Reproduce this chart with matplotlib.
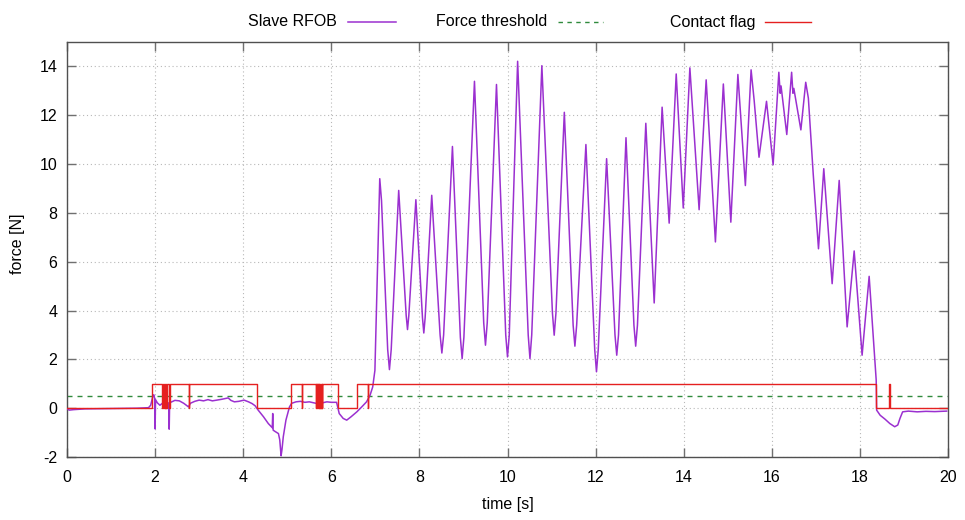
import matplotlib
matplotlib.use("Agg")
import matplotlib.pyplot as plt
from matplotlib.lines import Line2D

plt.rcParams['font.family'] = ['Liberation Sans', 'DejaVu Sans']
plt.rcParams['axes.unicode_minus'] = False

# ---- data ----
slave_t = [0.00, 0.05, 0.15, 0.40, 0.80, 1.20, 1.60, 1.85, 1.90, 1.95, 1.97, 1.99,
           2.00, 2.01, 2.05, 2.11, 2.18, 2.24, 2.31, 2.32, 2.33, 2.38, 2.45, 2.55,
           2.65, 2.76, 2.80, 2.90, 3.00, 3.10, 3.20, 3.30, 3.40, 3.50, 3.60, 3.66,
           3.72, 3.80, 3.90, 4.02, 4.12, 4.20, 4.27, 4.34, 4.46, 4.57, 4.66, 4.67,
           4.68, 4.72, 4.80, 4.83, 4.86, 4.88, 4.91, 4.97, 5.05, 5.10, 5.20, 5.30,
           5.40, 5.50, 5.60, 5.70, 5.80, 5.90, 6.00, 6.12, 6.18, 6.27, 6.35, 6.45,
           6.58, 6.69, 6.80, 6.88, 6.94, 6.99,
           7.10, 7.14, 7.28, 7.32, 7.36, 7.53, 7.70, 7.73, 7.76, 7.92, 8.07, 8.10,
           8.13, 8.28, 8.47, 8.51, 8.55, 8.75, 8.93, 8.97, 9.01, 9.25, 9.46, 9.50,
           9.54, 9.75, 9.96, 10.00, 10.04, 10.23, 10.47, 10.51, 10.55, 10.78,
           11.02, 11.06, 11.10, 11.29, 11.49, 11.53, 11.57, 11.78, 11.98, 12.02,
           12.06, 12.25, 12.44, 12.48, 12.52, 12.69, 12.87, 12.91, 12.95, 13.14,
           13.33, 13.51, 13.67, 13.83,
           13.99, 14.14, 14.35, 14.51, 14.72, 14.90, 15.07, 15.23, 15.40, 15.53,
           15.60, 15.71, 15.88, 16.03, 16.16, 16.19, 16.21, 16.34, 16.45, 16.48,
           16.50, 16.66, 16.77, 16.83, 16.94, 17.06, 17.18, 17.37, 17.53, 17.71,
           17.87, 18.05, 18.21, 18.37,
           18.38, 18.46, 18.57, 18.68, 18.79, 18.86, 18.91, 18.97, 19.10, 19.30,
           19.50, 19.70, 19.97]
slave_f = [-0.02, -0.08, -0.06, -0.03, -0.02, -0.01, 0.00, 0.02, 0.12, 0.50, 0.55, 0.40,
           -0.85, 0.35, 0.22, 0.12, 0.22, 0.28, 0.20, -0.86, 0.22, 0.26, 0.32, 0.30,
           0.20, 0.05, 0.20, 0.28, 0.33, 0.30, 0.35, 0.30, 0.33, 0.36, 0.40, 0.42,
           0.32, 0.26, 0.28, 0.33, 0.26, 0.19, 0.10, -0.08, -0.35, -0.63, -0.80, -0.22,
           -0.90, -0.95, -1.04, -1.30, -1.95, -1.70, -1.17, -0.49, 0.05, 0.20, 0.26, 0.28,
           0.24, 0.26, 0.22, 0.18, 0.22, 0.26, 0.24, 0.24, -0.22, -0.42, -0.49, -0.35,
           -0.15, 0.05, 0.26, 0.53, 0.87, 1.55,
           9.40, 8.50, 2.4, 1.58, 2.4, 8.92, 3.8, 3.22, 3.8, 8.54, 3.7, 3.08,
           3.7, 8.72, 3.0, 2.26, 3.0, 10.72, 2.9, 2.03, 2.9, 13.39, 3.5, 2.58,
           3.5, 13.26, 3.0, 2.10, 3.0, 14.21, 3.0, 2.03, 3.0, 14.03,
           3.9, 2.99, 3.9, 12.12, 3.4, 2.54, 3.4, 10.80, 2.4, 1.49,
           2.4, 10.22, 3.0, 2.17, 3.0, 11.08, 3.4, 2.54, 3.4, 11.67,
           4.31, 12.33, 7.58, 13.69,
           8.20, 13.94, 8.13, 13.45, 6.81, 13.28, 7.62, 13.67, 9.12, 13.86,
           12.60, 10.28, 12.57, 9.97, 13.76, 12.90, 13.20, 11.21, 13.76, 12.90,
           13.10, 11.40, 13.35, 12.70, 9.60, 6.53, 9.81, 5.10, 9.33, 3.33,
           6.44, 2.17, 5.40, 1.15,
           -0.08, -0.29, -0.45, -0.63, -0.76, -0.69, -0.42, -0.15, -0.12, -0.15,
           -0.13, -0.14, -0.12]

threshold = 0.5

contact_t = [0.00, 1.94, 2.16, 2.17, 2.21, 2.22, 2.23, 2.24, 2.25, 2.26, 2.32, 2.33,
             2.76, 2.77, 4.31, 5.09, 5.33, 5.34, 5.65, 5.66, 5.67, 5.68, 5.69, 5.70,
             5.71, 5.72, 5.73, 5.74, 5.75, 5.76, 5.77, 5.78, 5.79, 5.80, 6.16, 6.59,
             6.83, 6.84, 18.37, 18.67, 18.68, 19.97]
contact_v = [0, 1, 0, 1, 0, 1, 0, 1, 0, 1, 0, 1,
             0, 1, 0, 1, 0, 1, 0, 1, 0, 1, 0, 1,
             0, 1, 0, 1, 0, 1, 0, 1, 0, 1, 0, 1,
             0, 1, 0, 1, 0, 0]

labels = ["Slave RFOB", "Force threshold", "Contact flag"]
purple = "#9b30d0"
green = "#2f8a3c"
red = "#e52020"

fig = plt.figure(figsize=(9.65, 5.2), dpi=100)
ax = fig.add_axes([67/965, 1-457/520, (948-67)/965, (457-42)/520])

ax.plot(slave_t, slave_f, color=purple, lw=1.1, zorder=3)
ax.axhline(threshold, color=green, lw=1.0, dashes=(3.6, 3.6), zorder=2)
ax.plot(contact_t, contact_v, color=red, lw=1.0, drawstyle="steps-post", zorder=4)

ax.set_xlim(0, 20)
ax.set_ylim(-2, 15)
ax.set_xticks(range(0, 21, 2))
ax.set_yticks(range(-2, 15, 2))
ax.grid(True, color="#b8b8b8", lw=0.8, linestyle=(0, (1, 2.5)))
ax.set_axisbelow(True)
ax.tick_params(direction="in", length=6.5, width=1, color="#707070",
               top=True, right=True, labelsize=11.5, pad=7)
ax.tick_params(axis="x", pad=9)
for s in ax.spines.values():
    s.set_color("#505050")
    s.set_linewidth(1.0)

ax.set_xlabel("time [s]", fontsize=11.5)
ax.set_ylabel("force [N]", fontsize=11.5)
ax.xaxis.set_label_coords(0.5, -0.097)
ax.yaxis.set_label_coords(-0.048, 0.515)

# gnuplot-style key: text right-aligned, sample after it
key_y = 1 - 22/520
text_right = [337, 547, 755]
samp_start = [348, 558, 765]
samp_end = [396, 603, 811]
styles = [dict(color=purple, lw=1.1),
          dict(color=green, lw=1.0, dashes=(3.2, 3.2)),
          dict(color=red, lw=1.0)]
for lab, tr, s0, s1, st in zip(labels, text_right, samp_start, samp_end, styles):
    fig.text(tr/965, key_y, lab, ha="right", va="center", fontsize=11.5)
    fig.add_artist(Line2D([s0/965, s1/965], [key_y, key_y], **st))

fig.savefig("out.png", dpi=100)
